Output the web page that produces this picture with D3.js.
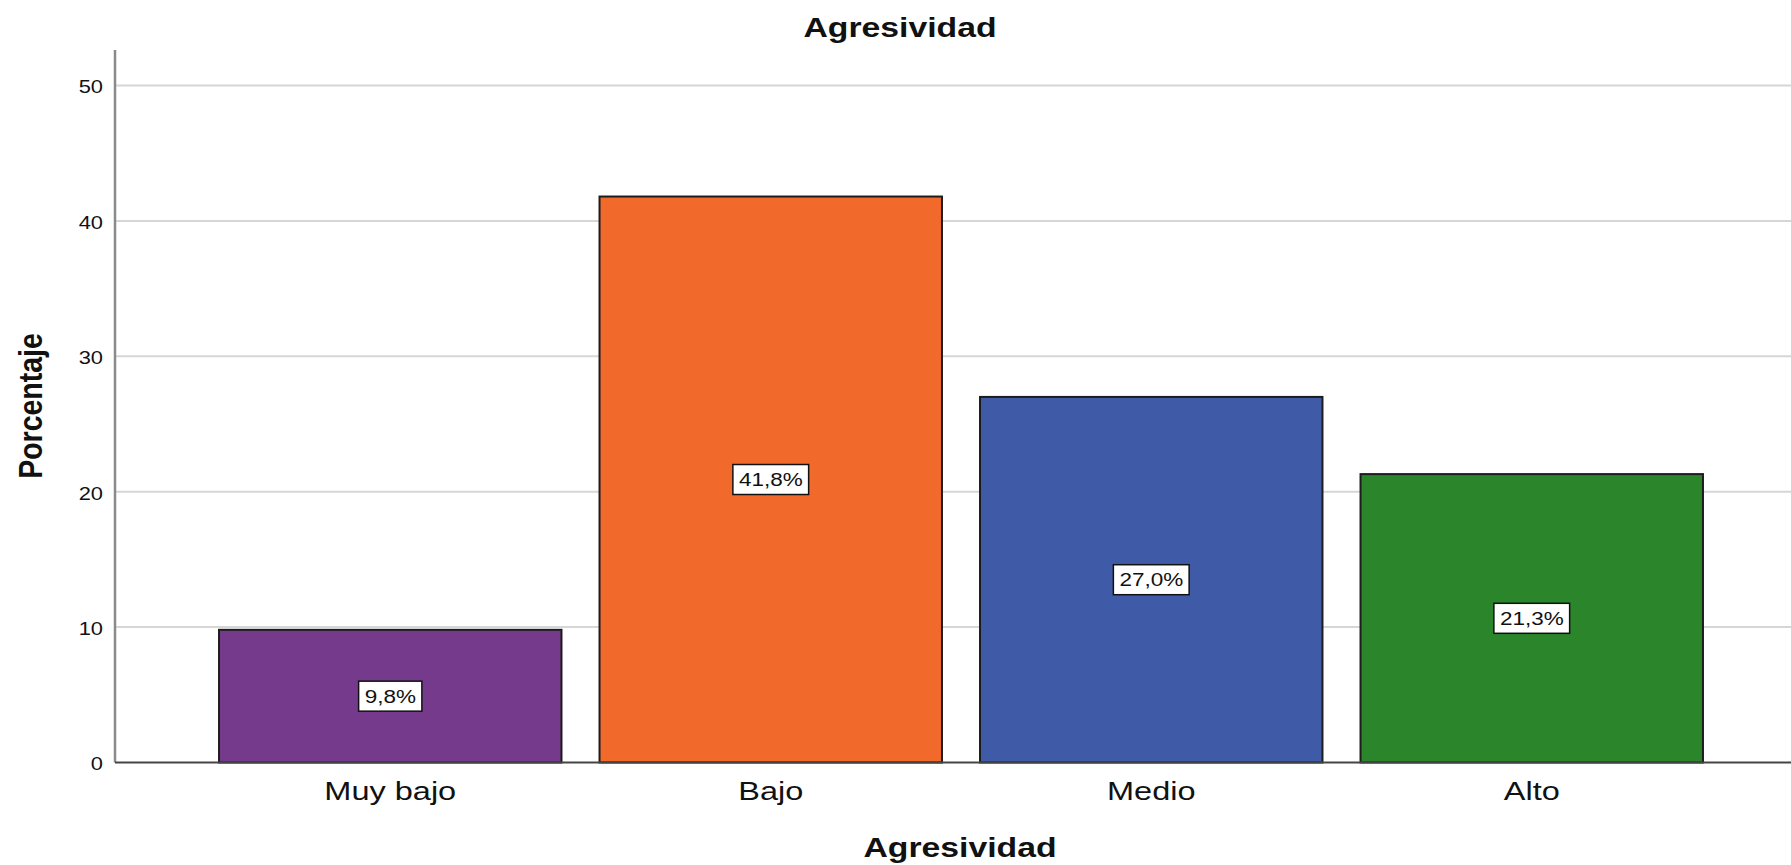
<!DOCTYPE html>
<html>
<head>
<meta charset="utf-8">
<script src="https://cdn.jsdelivr.net/npm/d3@7"></script>
<style>
  body { margin: 0; background: #fff; }
  text { font-family: "Liberation Sans", Arial, sans-serif; fill: #111; }
</style>
</head>
<body>
<svg width="1791" height="865"></svg>
<script>
const categories = ['Muy bajo', 'Bajo', 'Medio', 'Alto'];
const values = [9.8, 41.8, 27.0, 21.3];
const valueLabels = ['9,8%', '41,8%', '27,0%', '21,3%'];
const colors = ['#763a8c', '#f2692c', '#3f5ba8', '#2a852b'];
const yTicks = [0, 10, 20, 30, 40, 50];

const svg = d3.select('svg');
const width = +svg.attr('width');
const height = +svg.attr('height');

// the source picture is stretched sideways, so text gets the same stretch
const sx = 1.25;

const xScale = d3.scaleBand()
  .domain(categories)
  .range([200, 1722])
  .paddingInner(0.1)
  .paddingOuter(0.05);

const yScale = d3.scaleLinear()
  .domain([0, 50])
  .range([762.5, 85.5]);

const axisLeftX = 115;

// gridlines
svg.append('g')
  .selectAll('line')
  .data(yTicks.filter(d => d > 0))
  .join('line')
  .attr('x1', axisLeftX)
  .attr('x2', width)
  .attr('y1', d => yScale(d))
  .attr('y2', d => yScale(d))
  .attr('stroke', '#d6d6d6')
  .attr('stroke-width', 2);

// y axis
const yAxis = d3.axisLeft(yScale)
  .tickValues(yTicks)
  .tickSize(0)
  .tickPadding(0);

const yG = svg.append('g')
  .attr('transform', `translate(${axisLeftX}, 0)`)
  .call(yAxis);
yG.select('.domain').remove();
yG.selectAll('text')
  .attr('x', -12 / sx)
  .attr('dy', '0.42em')
  .attr('transform', `scale(${sx}, 1)`)
  .style('font-size', '17.5px')
  .style('font-family', '"Liberation Sans", Arial, sans-serif')
  .attr('fill', '#111');

svg.append('line')
  .attr('x1', axisLeftX).attr('x2', axisLeftX)
  .attr('y1', 50).attr('y2', yScale(0))
  .attr('stroke', '#8a8a8a')
  .attr('stroke-width', 2.5);

// bars
svg.append('g')
  .selectAll('rect')
  .data(categories)
  .join('rect')
  .attr('x', d => xScale(d))
  .attr('y', (d, i) => yScale(values[i]))
  .attr('width', xScale.bandwidth())
  .attr('height', (d, i) => yScale(0) - yScale(values[i]))
  .attr('fill', (d, i) => colors[i])
  .attr('stroke', '#1c1c1c')
  .attr('stroke-width', 2);

// x axis
const xAxis = d3.axisBottom(xScale)
  .tickSize(0)
  .tickPadding(0);

const xG = svg.append('g')
  .attr('transform', `translate(0, ${yScale(0)})`)
  .call(xAxis);
xG.select('.domain')
  .attr('d', `M${axisLeftX},0H${width}`)
  .attr('stroke', '#444')
  .attr('stroke-width', 2);
xG.selectAll('text')
  .attr('y', 0)
  .attr('dy', 0)
  .attr('transform', `translate(0, 37) scale(${sx}, 1)`)
  .style('font-size', '26px')
  .style('font-family', '"Liberation Sans", Arial, sans-serif')
  .attr('fill', '#222');

// value labels
const labels = svg.append('g')
  .selectAll('g')
  .data(categories)
  .join('g')
  .attr('transform', (d, i) =>
    `translate(${xScale(d) + xScale.bandwidth() / 2}, ${yScale(values[i] / 2)})`);

labels.each(function(d, i) {
  const g = d3.select(this);
  const rect = g.append('rect');
  const t = g.append('text')
    .attr('text-anchor', 'middle')
    .attr('dy', '0.36em')
    .attr('transform', `scale(${sx}, 1)`)
    .style('font-size', '18px')
    .text(valueLabels[i]);
  const w = t.node().getBBox().width * sx + 12;
  rect.attr('x', -w / 2)
    .attr('y', -15)
    .attr('width', w)
    .attr('height', 30)
    .attr('fill', '#fff')
    .attr('stroke', '#111')
    .attr('stroke-width', 1.5);
});

// titles
svg.append('text')
  .attr('transform', `translate(900, 37) scale(${sx}, 1)`)
  .attr('text-anchor', 'middle')
  .style('font-size', '27px')
  .style('font-weight', 'bold')
  .text('Agresividad');

svg.append('text')
  .attr('transform', `translate(960, 857) scale(${sx}, 1)`)
  .attr('text-anchor', 'middle')
  .style('font-size', '27px')
  .style('font-weight', 'bold')
  .text('Agresividad');

svg.append('text')
  .attr('transform', `translate(42, 406) scale(1.18, 1) rotate(-90)`)
  .attr('text-anchor', 'middle')
  .style('font-size', '28.5px')
  .style('font-weight', 'bold')
  .text('Porcentaje');
</script>
</body>
</html>
